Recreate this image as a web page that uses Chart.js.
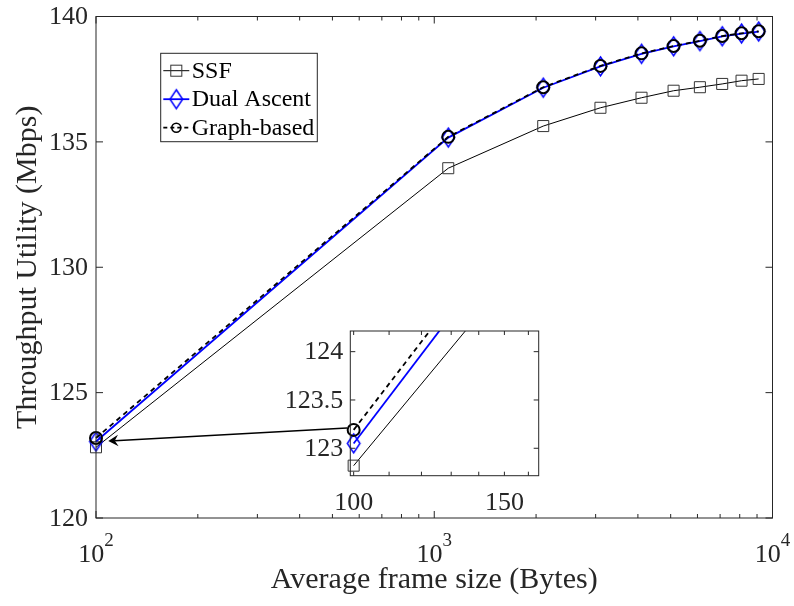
<!DOCTYPE html>
<html><head><meta charset="utf-8">
<script src="https://cdn.jsdelivr.net/npm/chart.js@4.4.1/dist/chart.umd.min.js"></script>
<style>
html,body{margin:0;padding:0;background:#fff;}
#wrap{position:relative;width:794px;height:606px;background:#fff;}
#main{position:absolute;left:0;top:0;}
#inset{position:absolute;left:280px;top:320px;}
</style></head><body>
<div id="wrap"><canvas id="main" width="794" height="606"></canvas><canvas id="inset" width="270" height="200"></canvas></div>
<script>
// ---- data ----
const frameSizes = [100, 1100, 2100, 3100, 4100, 5100, 6100, 7100, 8100, 9100];
const ssf        = [122.82, 133.95, 135.63, 136.36, 136.76, 137.04, 137.18, 137.31, 137.44, 137.51];
const dualAscent = [123.05, 135.17, 137.16, 138.01, 138.51, 138.81, 139.02, 139.21, 139.32, 139.40];
const graphBased = [123.19, 135.20, 137.18, 138.03, 138.53, 138.82, 139.03, 139.22, 139.33, 139.41];
const seriesNames = ['SSF', 'Dual Ascent', 'Graph-based'];
const yTicks = [120, 125, 130, 135, 140];
const xMajorTicks = [100, 1000, 10000];
const xMinorTicks = [200, 300, 400, 500, 600, 700, 800, 900, 2000, 3000, 4000, 5000, 6000, 7000, 8000, 9000];
const insetXTicks = [100, 110, 120, 130, 140, 150, 160];
const insetXLabels = [100, 150];
const insetYTicks = [123, 123.5, 124];
const xTitle = 'Average frame size (Bytes)';
const yTitle = 'Throughput Utility (Mbps)';

// ---- style ----
const FONT = '"Liberation Serif","Times New Roman",serif';
const AX = '#262626';
const TICKPX = 26;
Chart.defaults.font.family = FONT;

function makeDiamond(hw, hh, lw, color) {
  const c = document.createElement('canvas');
  c.width = Math.ceil(2 * hw + lw + 2); c.height = Math.ceil(2 * hh + lw + 2);
  const g = c.getContext('2d');
  const cx = c.width / 2, cy = c.height / 2;
  g.strokeStyle = color; g.lineWidth = lw; g.lineJoin = 'miter';
  g.beginPath(); g.moveTo(cx, cy - hh); g.lineTo(cx + hw, cy); g.lineTo(cx, cy + hh); g.lineTo(cx - hw, cy); g.closePath(); g.stroke();
  return c;
}
const diamondImg = makeDiamond(6.3, 9.5, 1.5, '#0000ff');

function pts(ys) { return frameSizes.map((x, i) => ({x: x, y: ys[i]})); }
function makeDatasets(clip) {
  return [
    {label: seriesNames[0], data: pts(ssf), borderColor: '#000', borderWidth: 1,
     pointStyle: 'rect', pointRadius: 7.8, pointBorderColor: '#333', pointBorderWidth: 1,
     pointBackgroundColor: 'rgba(0,0,0,0)', order: 3, clip: clip},
    {label: seriesNames[1], data: pts(dualAscent), borderColor: '#0000ff', borderWidth: 1.8,
     pointStyle: diamondImg, pointRadius: 7, pointBorderColor: '#0000ff',
     pointBackgroundColor: 'rgba(0,0,0,0)', order: 2, clip: clip},
    {label: seriesNames[2], data: pts(graphBased), borderColor: '#000', borderWidth: 1.8, borderDash: [5, 4],
     pointStyle: 'circle', pointRadius: 6, pointBorderColor: '#000', pointBorderWidth: 2,
     pointBackgroundColor: 'rgba(0,0,0,0)', order: 1, clip: clip}
  ];
}

function drawFrame(chart, xLen, xMinorLen, yLen, yPad) {
  const {ctx, chartArea: a, scales: {x, y}} = chart;
  ctx.save();
  ctx.strokeStyle = AX; ctx.lineWidth = 1;
  ctx.strokeRect(a.left, a.top, a.right - a.left, a.bottom - a.top);
  ctx.beginPath();
  for (const t of x.ticks) {
    const px = x.getPixelForValue(t.value);
    const L = t.major ? xLen : xMinorLen;
    ctx.moveTo(px, a.bottom); ctx.lineTo(px, a.bottom - L);
    ctx.moveTo(px, a.top); ctx.lineTo(px, a.top + L);
  }
  for (const t of y.ticks) {
    const py = y.getPixelForValue(t.value);
    ctx.moveTo(a.left, py); ctx.lineTo(a.left + yLen, py);
    ctx.moveTo(a.right, py); ctx.lineTo(a.right - yLen, py);
  }
  ctx.stroke();
  // y tick labels
  ctx.fillStyle = AX; ctx.font = TICKPX + 'px ' + FONT; ctx.textAlign = 'right'; ctx.textBaseline = 'middle';
  for (const t of y.ticks) ctx.fillText(String(t.value), a.left - yPad, y.getPixelForValue(t.value) + 1);
  ctx.restore();
}

function drawMarker(ctx, ds, cx, cy, legend) {
  ctx.save();
  if (ds.pointStyle === 'rect') {
    const s = ds.pointRadius * Math.SQRT1_2;
    ctx.strokeStyle = ds.pointBorderColor; ctx.lineWidth = ds.pointBorderWidth;
    ctx.strokeRect(cx - s, cy - s, 2 * s, 2 * s);
  } else if (ds.pointStyle === 'circle') {
    ctx.strokeStyle = ds.pointBorderColor; ctx.lineWidth = legend ? 1.6 : ds.pointBorderWidth;
    ctx.beginPath(); ctx.arc(cx, cy, legend ? 4.5 : ds.pointRadius, 0, Math.PI * 2); ctx.stroke();
  } else if (typeof ds.pointStyle === 'object') {
    const im = ds.pointStyle;
    ctx.drawImage(im, cx - im.width / 2, cy - im.height / 2);
  }
  ctx.restore();
}

// ---- inset chart ----
const insetCanvas = document.getElementById('inset');
const insetPlugin = {
  id: 'insetDeco',
  beforeDatasetsDraw(chart) {
    const {ctx, chartArea: a} = chart;
    ctx.save(); ctx.fillStyle = '#fff'; ctx.fillRect(a.left, a.top, a.right - a.left, a.bottom - a.top); ctx.restore();
  },
  afterDraw(chart) {
    drawFrame(chart, 4, 4, 5, 7);
    const {ctx, chartArea: a, scales: {x}} = chart;
    ctx.save();
    ctx.fillStyle = AX; ctx.font = TICKPX + 'px ' + FONT; ctx.textAlign = 'center'; ctx.textBaseline = 'alphabetic';
    for (const v of insetXLabels) ctx.fillText(String(v), x.getPixelForValue(v), a.bottom + 34.3);
    ctx.restore();
  }
};
const insetChart = new Chart(insetCanvas, {
  type: 'line',
  data: {datasets: makeDatasets({left: 12, top: 0, right: 0, bottom: 12})},
  options: {
    responsive: false, animation: false, events: [], devicePixelRatio: 1,
    plugins: {legend: {display: false}, tooltip: {enabled: false}},
    layout: {padding: {top: 11, right: 11.3, left: 0, bottom: 0}},
    scales: {
      x: {type: 'logarithmic', min: 99.1, max: 164.5,
          afterBuildTicks: s => { s.ticks = insetXTicks.map(v => ({value: v, major: true})); },
          afterFit: s => { s.height = 44.3; },
          ticks: {display: false}, grid: {display: false, drawTicks: false}, border: {display: false}},
      y: {type: 'linear', min: 122.716, max: 124.214,
          afterBuildTicks: s => { s.ticks = insetYTicks.map(v => ({value: v})); },
          afterFit: s => { s.width = 70.3; },
          ticks: {display: false},
          grid: {display: false, drawTicks: false}, border: {display: false}}
    }
  },
  plugins: [insetPlugin]
});

// ---- main chart ----
const mainPlugin = {
  id: 'mainDeco',
  afterDraw(chart) {
    drawFrame(chart, 7, 4, 7, 8);
    const {ctx, chartArea: a, scales: {x, y}} = chart;
    // x tick labels 10^n
    ctx.save();
    ctx.fillStyle = AX; ctx.textBaseline = 'alphabetic'; ctx.textAlign = 'left';
    for (const v of xMajorTicks) {
      const e = String(Math.round(Math.log10(v)));
      ctx.font = TICKPX + 'px ' + FONT; const w1 = ctx.measureText('10').width;
      ctx.font = '19px ' + FONT; const w2 = ctx.measureText(e).width;
      const x0 = x.getPixelForValue(v) - (w1 + w2) / 2;
      const base = a.bottom + 43.7;
      ctx.font = TICKPX + 'px ' + FONT; ctx.fillText('10', x0, base);
      ctx.font = '19px ' + FONT; ctx.fillText(e, x0 + w1, base - 16);
    }
    ctx.restore();

    // legend
    const lg = {left: a.left + 64.7, top: a.top + 36.8, w: 156.6, h: 88.4};
    ctx.save();
    ctx.fillStyle = '#fff'; ctx.fillRect(lg.left, lg.top, lg.w, lg.h);
    ctx.strokeStyle = AX; ctx.lineWidth = 1; ctx.strokeRect(lg.left, lg.top, lg.w, lg.h);
    const rowY = [17.4, 45.9, 74.4];
    chart.data.datasets.forEach((ds, i) => {
      const cy = lg.top + rowY[i];
      ctx.save();
      ctx.strokeStyle = ds.borderColor; ctx.lineWidth = ds.borderWidth;
      ctx.setLineDash(ds.borderDash ? [4, 3] : []);
      ctx.beginPath(); ctx.moveTo(lg.left + 2.6, cy); ctx.lineTo(lg.left + 28.6, cy); ctx.stroke();
      ctx.restore();
      drawMarker(ctx, ds, lg.left + 15.6, cy, true);
      ctx.fillStyle = '#000'; ctx.font = '24px ' + FONT; ctx.textAlign = 'left'; ctx.textBaseline = 'alphabetic';
      ctx.fillText(ds.label, lg.left + 31, cy + 6.8);
    });
    ctx.restore();

    // arrow from inset point to main point
    const ix = insetChart.scales.x, iy = insetChart.scales.y;
    const sx = ix.getPixelForValue(frameSizes[0]) + insetCanvas.offsetLeft - 6.6;
    const sy = iy.getPixelForValue(graphBased[0]) + insetCanvas.offsetTop - 2;
    const tx = x.getPixelForValue(frameSizes[0]) + 12.3;
    const ty = y.getPixelForValue(graphBased[0]) + 3;
    const dx = tx - sx, dy = ty - sy, len = Math.hypot(dx, dy);
    const ux = dx / len, uy = dy / len, nx = -uy, ny = ux;
    const L = 10, W = 5.8, N = 6.5;
    ctx.save();
    ctx.strokeStyle = '#000'; ctx.lineWidth = 1.5;
    ctx.beginPath(); ctx.moveTo(sx, sy); ctx.lineTo(tx - ux * N, ty - uy * N); ctx.stroke();
    ctx.fillStyle = '#000';
    ctx.beginPath();
    ctx.moveTo(tx, ty);
    ctx.lineTo(tx - ux * L + nx * W, ty - uy * L + ny * W);
    ctx.lineTo(tx - ux * N, ty - uy * N);
    ctx.lineTo(tx - ux * L - nx * W, ty - uy * L - ny * W);
    ctx.closePath(); ctx.fill();
    ctx.restore();
  }
};

new Chart(document.getElementById('main'), {
  type: 'line',
  data: {datasets: makeDatasets(false)},
  options: {
    responsive: false, animation: false, events: [], devicePixelRatio: 1,
    plugins: {legend: {display: false}, tooltip: {enabled: false}},
    layout: {padding: {top: 16.5, right: 21.5, left: 0, bottom: 0}},
    scales: {
      x: {type: 'logarithmic', min: 100, max: 10000,
          afterBuildTicks: s => {
            s.ticks = xMajorTicks.concat(xMinorTicks).sort((p, q) => p - q)
              .map(v => ({value: v, major: xMajorTicks.includes(v)}));
          },
          afterFit: s => { s.height = 88; },
          ticks: {display: false}, grid: {display: false, drawTicks: false}, border: {display: false},
          title: {display: true, text: xTitle, color: AX, font: {family: FONT, size: 30}, padding: {top: 0, bottom: 8}}},
      y: {type: 'linear', min: 120, max: 140,
          afterBuildTicks: s => { s.ticks = yTicks.map(v => ({value: v})); },
          afterFit: s => { s.width = 96; },
          ticks: {display: false},
          grid: {display: false, drawTicks: false}, border: {display: false},
          title: {display: true, text: yTitle, color: AX, font: {family: FONT, size: 30}, padding: {top: 10, bottom: 0}}}
    }
  },
  plugins: [mainPlugin]
});
</script>
</body></html>
